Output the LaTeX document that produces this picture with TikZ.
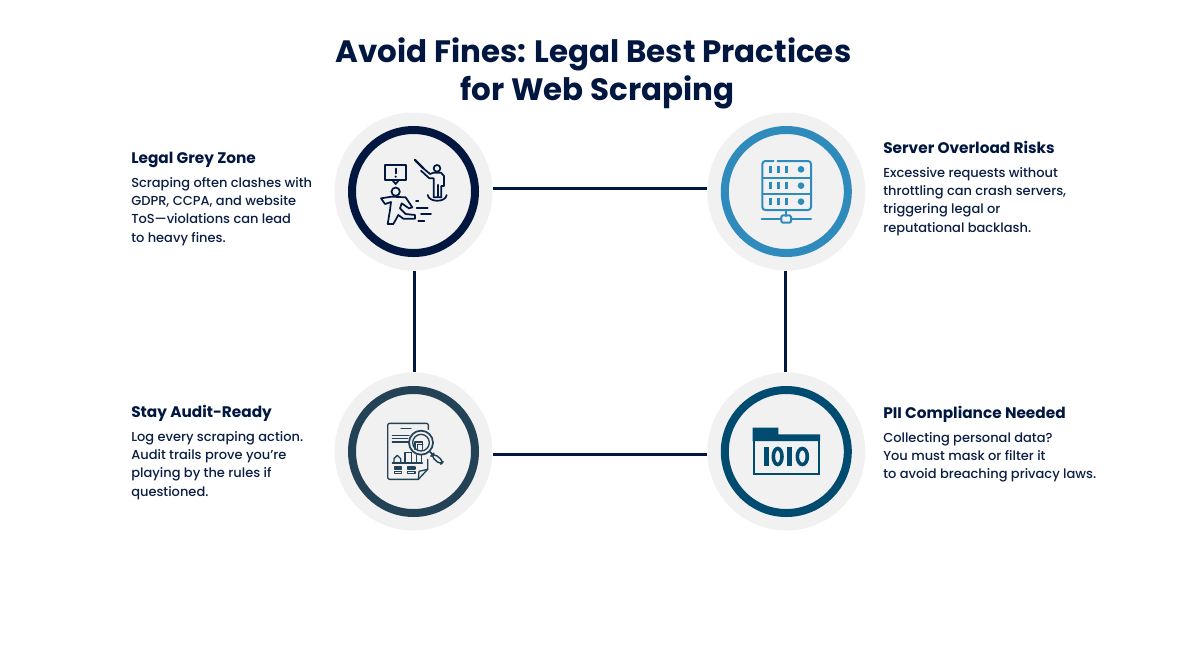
\documentclass[tikz,border=0pt]{standalone}
\usepackage{fontspec}
\setmainfont{Poppins Medium}[BoldFont={Poppins Bold}]
\definecolor{navy}{HTML}{02173F}
\definecolor{txt}{HTML}{0B1F44}
\definecolor{halo}{HTML}{F1F1F2}
\definecolor{cblue}{HTML}{2E8BBC}
\definecolor{cslate}{HTML}{234256}
\definecolor{cteal}{HTML}{004C70}
\tikzset{
  halonode/.style={circle,fill=halo,draw=none,minimum size=158*.75pt,inner sep=0pt},
  ringline/.style={line width=6pt,fill=none},
  link/.style={draw=navy,line width=2.25pt},
  titletext/.style={align=center,text=navy,font=\fontsize{23.2pt}{28.6pt}\selectfont\bfseries,inner sep=0pt},
  headtext/.style={anchor=base west,text=navy,font=\fontsize{11.5pt}{13pt}\selectfont\bfseries,inner sep=0pt},
  bodytext/.style={anchor=north west,align=left,text=txt,font=\fontsize{9.75pt}{13.7pt}\selectfont,inner sep=0pt},
  ico/.style={line width=1.3pt,line cap=round,line join=round},
  zoomgrid/.style={x=.25pt,y=-.25pt},
}
\begin{document}
\begin{tikzpicture}[x=.75pt,y=-.75pt]
\useasboundingbox (0,0) rectangle (1200,644);
\fill[white] (0,0) rectangle (1200,644);
\node[titletext] (title) at (593.5,73.5) {Avoid Fines: Legal Best Practices\\\hspace*{6pt}for Web Scraping};
\node[halonode] (tl) at (413.5,191.5) {};
\node[halonode] (tr) at (786.3,191.5) {};
\node[halonode] (bl) at (413.5,451.5) {};
\node[halonode] (br) at (786.3,451.5) {};
\draw[link] ([yshift=1.9pt]tl.east) -- ([yshift=1.9pt]tr.west);
\draw[link] ([yshift=-2pt]bl.east) -- ([yshift=-2pt]br.west);
\draw[link] ([xshift=.75pt]tl.south) -- ([xshift=.75pt]bl.north);
\draw[link] ([xshift=-.6pt]tr.south) -- ([xshift=-.6pt]br.north);
\draw[ringline,draw=navy] (413.5,191.5) circle (61.5);
\draw[ringline,draw=cblue] (786.3,191.5) circle (61.5);
\draw[ringline,draw=cslate] (413.5,451.5) circle (61.5);
\draw[ringline,draw=cteal] (786.3,451.5) circle (61.5);
% icon 1
\begin{scope}[shift={(335,110)},zoomgrid,ico,draw=navy]
\draw (150,166) rectangle (213,210);
\draw (172,210) -- (182,222) -- (192,210);
\draw[line width=1.6pt] (182,176) -- (182,190);
\fill[navy] (182,200) circle (3.5);
\draw[line width=1.7pt] (240,150) -- (265,175);
\draw (265,175) -- (285,192) -- (296,188) -- (318,188) -- (327,198) -- (327,228) -- (319,228) -- (319,262) -- (296,262) -- (296,205) -- (283,205) -- (258,182);
\draw[line width=1.6pt] (308,225) -- (308,260);
\draw (306,175) circle (10);
\draw (278,255) .. controls (282,278) and (332,278) .. (335,255);
\draw (182,245) circle (12.5);
\draw (138,265) -- (150,282) -- (168,276) -- (165,300) -- (158,342) -- (175,342) -- (190,315) -- (205,326) -- (240,326) -- (240,315) -- (212,312) -- (195,295) -- (200,280) -- (222,295) -- (232,292) -- (212,262) -- (170,260) -- cycle;
\draw (243,272) -- (250,272) (245,293) -- (278,293) (258,313) -- (288,313) (250,333) -- (268,333);
\end{scope}
% icon 2
\begin{scope}[shift={(705,110)},zoomgrid,ico,draw=cblue,line width=1.5pt]
\draw[rounded corners=2.2pt] (206,153) -- (172,153) -- (172,300) -- (318,300) -- (318,153) -- (218,153);
\draw (172,203) -- (318,203) (172,252) -- (318,252);
\foreach \yy in {178,227,275}{
  \fill[cblue] (192,\yy-10) rectangle (201,\yy+10);
  \fill[cblue] (216,\yy-10) rectangle (225,\yy+10);
  \fill[cblue] (240,\yy-10) rectangle (249,\yy+10);
  \fill[cblue] (288,\yy) circle (10);
}
\draw (243,300) -- (243,318);
\draw (170,326) -- (228,326) (258,326) -- (318,326);
\draw[rounded corners=1pt] (229,316) rectangle (258,338);
\end{scope}
% icon 3
\begin{scope}[shift={(335,372)},zoomgrid,ico,draw=cslate,line width=1pt]
\draw[rounded corners=1.5pt] (280,172) -- (280,154) -- (158,154) -- (158,322) -- (250,322);
\draw (250,322) -- (278,292) -- (278,262);
\draw (250,322) -- (252,298) -- (278,292);
\draw (198,170) -- (228,170) (172,190) -- (222,190) (172,200) -- (218,200) (172,210) -- (225,210);
\draw[fill=halo,line width=1.3pt] (258,212) circle (36);
\draw (258,212) circle (25);
\draw (240,232) -- (240,210) -- (263,210) -- (263,232);
\draw (248,232) -- (248,218) -- (263,218);
\draw (172,273) -- (262,273);
\draw (177,273) -- (177,260) -- (187,250) -- (197,260) -- (197,273);
\draw (210,273) -- (210,242) -- (230,242) -- (230,273);
\draw (245,273) -- (245,250) (260,273) -- (260,250);
\draw (178,285) rectangle (200,291) (218,285) rectangle (240,291) (178,298) rectangle (200,304) (218,298) rectangle (240,304);
\draw[line width=1.3pt] (285,240) -- (296,250);
\draw[rounded corners=3pt,line width=1.1pt] (296,244) -- (326,268) -- (316,278) -- (288,252) -- cycle;
\end{scope}
% icon 4
\begin{scope}[shift={(705,372)},zoomgrid]
\fill[cteal] (143,167) -- (220,167) -- (220,187) -- (345,187) -- (345,207) -- (143,207) -- cycle;
\draw[cteal,line width=1.7pt] (146,205) rectangle (342,306);
\fill[cteal] (178,225) rectangle (191,282);
\fill[cteal] (247,225) rectangle (260,282);
\draw[cteal,line width=2.7pt] (218,253.5) ellipse (13 and 24);
\draw[cteal,line width=2.7pt] (292,253.5) ellipse (15 and 24);
\end{scope}
% text
\node[headtext] (h1) at (131,163) {Legal Grey Zone};
\node[bodytext] (b1) at (131,177) {Scraping often clashes with\\GDPR, CCPA, and website\\ToS—violations can lead\\to heavy fines.};
\node[headtext] (h2) at (883,153) {Server Overload Risks};
\node[bodytext] (b2) at (883,167) {Excessive requests without\\throttling can crash servers,\\triggering legal or\\reputational backlash.};
\node[headtext] (h3) at (131,417) {Stay Audit-Ready};
\node[bodytext] (b3) at (131,431) {Log every scraping action.\\Audit trails prove you’re\\playing by the rules if\\questioned.};
\node[headtext] (h4) at (883,418) {PII Compliance Needed};
\node[bodytext] (b4) at (883,432) {Collecting personal data?\\You must mask or filter it\\to avoid breaching privacy laws.};
\end{tikzpicture}
\end{document}
